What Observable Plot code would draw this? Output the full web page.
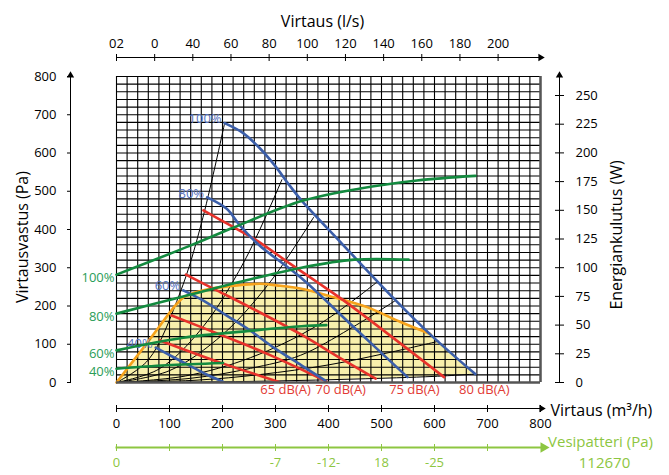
<!DOCTYPE html>
<html><head><meta charset="utf-8">
<script src="https://cdn.jsdelivr.net/npm/d3@7"></script>
<script src="https://cdn.jsdelivr.net/npm/@observablehq/plot@0.6"></script>
<style>
body{margin:0;background:#fff}
#chart{position:relative;width:669px;height:475px;font-family:"Open Sans",sans-serif}
#chart svg{position:absolute;left:0;top:0}
</style></head><body><div id="chart"></div>
<script>
// ---------- axis ticks ----------
const flowTicks = [0,100,200,300,400,500,600,700,800];
const pressureTicks = [0,100,200,300,400,500,600,700,800];
const powerTicks = [0,25,50,75,100,125,150,175,200,225,250];
const lsTicks = [0,20,40,60,80,100,120,140,160,180,200];
const lsTickLabels = ["02","0","40","60","80","100","120","140","160","180","200"];
const coilTicks = [0,100,200,300,400,500,600,700];
const coilTickLabels = ["0","","","-7","-12-","18","-25",""];
const gridValues = d3.range(0, 801, 20);

// ---------- fan curves (m3/h, Pa) ----------
const fan100Q = [204,239,270,300,325,349,426,523,598,677];
const fan100P = [678,652,613,565,518,476,362,220,118,22];
const fan80Q = [171,208,233,270,347,449,549];
const fan80P = [484,454,410,358,275,143,14];
const fan60Q = [126,164,208,252,296,349,394];
const fan60P = [241,214,175,136,92,45,5];
const fan40Q = [74,105,138,170,201];
const fan40P = [91,68,44,21,2];
const fanLabels = ["100%","80%","60%","40%"];

// ---------- sound level lines (m3/h, Pa) ----------
const db80Q = [164,221,265,328,379,429,618];
const db80P = [450,406,371,310,262,214,14];
const db75Q = [131,189,253,349,423,489];
const db75P = [282,241,196,125,63,10];
const db70Q = [104,196,291,396];
const db70P = [175,125,71,3];
const db65Q = [82,196,308];
const db65P = [110,52,1];
const dbLabels = ["65 dB(A)","70 dB(A)","75 dB(A)","80 dB(A)"];
const dbLabelQ = [319,423,562,694];

// ---------- power curves (m3/h, W) ----------
const pow100Q = [0,138,221,349,460,567,677];
const pow100W = [94,119,135,158,169,176,180];
const pow80Q = [0,126,236,349,448,551];
const pow80W = [60,75,88,100,107,107];
const pow60Q = [0,126,252,349,396];
const pow60W = [28,39,45,49,50];
const pow40Q = [0,94,201];
const pow40W = [12,15,17];
const powLabels = ["100%","80%","60%","40%"];

// ---------- system curves (m3/h, Pa) ----------
const sys1Q = [0,60,120,160,204];      const sys1P = [0,59,235,415,678];
const sys2Q = [0,80,160,240,312];      const sys2P = [0,35,140,314,530];
const sys3Q = [0,100,200,290,372];     const sys3P = [0,31,125,263,432];
const sys4Q = [0,130,253,380,491];     const sys4P = [0,17,65,150,262];
const sys5Q = [0,140,253,347,440,526]; const sys5P = [0,11,37,71,140,214];
const sys6Q = [0,150,272,400,520,608]; const sys6P = [0,6,21,46,80,108];
const baseQ = [0,150,300,450,600,677]; const baseP = [0,1,4,9,16,22];

// ---------- operating range upper limit (m3/h, Pa) ----------
const limitQ = [0,57,114,127,150,177,228,272,302,349,410,473,536,592];
const limitP = [0,102,206,223,236,245,254,258,254,245,223,197,158,127];

// ---------- helpers ----------
const pts = (q, v) => q.map((d, i) => ({q: d, v: v[i]}));
const BLUE = "#3b5ea9", BLUE_T = "#5673bf", RED = "#e8322b", RED_T = "#e23a34";
const GREEN = "#138a3f", GREEN_T = "#2a9d58", ORANGE = "#f6a21b", YELLOW = "#f8f0ac";
const LGREEN = "#8dc641";
const FONT = '"Open Sans", sans-serif';
const X = {domain: [0, 800], range: [116, 540], axis: null};
const overlay = (extra) => Object.assign({background: "transparent", overflow: "visible", fontFamily: FONT, fontSize: "13px"}, extra || {});

const fans = [pts(fan100Q, fan100P), pts(fan80Q, fan80P), pts(fan60Q, fan60P), pts(fan40Q, fan40P)];
const dbs = [pts(db80Q, db80P), pts(db75Q, db75P), pts(db70Q, db70P), pts(db65Q, db65P)];
const syss = [pts(sys1Q, sys1P), pts(sys2Q, sys2P), pts(sys3Q, sys3P), pts(sys4Q, sys4P), pts(sys5Q, sys5P), pts(sys6Q, sys6P)];
const base = pts(baseQ, baseP);
const limit = pts(limitQ, limitP);
const envelope = limit.concat(pts(fan100Q, fan100P).filter(d => d.q > limitQ[limitQ.length - 1]));
const pows = [pts(pow100Q, pow100W), pts(pow80Q, pow80W), pts(pow60Q, pow60W), pts(pow40Q, pow40W)];

const CURVE = "catmull-rom";
const chart = document.getElementById("chart");

// ---------- main plot: flow vs pressure ----------
const main = Plot.plot({
  width: 669, height: 475,
  marginLeft: 70, marginTop: 75, marginBottom: 93, marginRight: 129,
  style: overlay({background: "white"}),
  x: X,
  y: {domain: [0, 800], range: [382, 76], axis: null},
  marks: [
    Plot.areaY(envelope, {x: "q", y: "v", fill: YELLOW, curve: CURVE}),
    Plot.areaY(base, {x: "q", y: "v", fill: "white", curve: CURVE}),
    Plot.ruleX(gridValues, {y1: 0, y2: 800, stroke: "#000", strokeWidth: 1.1}),
    Plot.ruleY(gridValues, {x1: 0, x2: 800, stroke: "#000", strokeWidth: 1.1}),
    ...syss.map(s => Plot.line(s, {x: "q", y: "v", stroke: "#000", strokeWidth: 1, curve: CURVE})),
    Plot.line(base, {x: "q", y: "v", stroke: "#000", strokeWidth: 1, curve: CURVE}),
    Plot.line(limit, {x: "q", y: "v", stroke: ORANGE, strokeWidth: 2.6, curve: CURVE}),
    ...dbs.map(s => Plot.line(s, {x: "q", y: "v", stroke: RED, strokeWidth: 2.6, curve: CURVE})),
    ...fans.map(s => Plot.line(s, {x: "q", y: "v", stroke: BLUE, strokeWidth: 2.6, curve: CURVE})),
    Plot.ruleX([800], {y1: 0, y2: 800, stroke: "#555", strokeWidth: 2.5}),
    Plot.ruleY([0], {x1: 0, x2: 800, stroke: "#555", strokeWidth: 2.5}),
    Plot.text(fans.map((s, i) => ({q: s[0].q, v: s[0].v, t: fanLabels[i]})),
      {x: "q", y: "v", text: "t", textAnchor: "end", dx: -3, dy: -4, fill: BLUE_T, fontSize: 13}),
    Plot.text(dbLabels, {x: (d, i) => dbLabelQ[i], text: d => d, frameAnchor: "bottom", textAnchor: "middle", dy: 11, fill: RED_T, fontSize: 13}),
    Plot.axisY(pressureTicks, {anchor: "left", tickSize: 3, tickPadding: 11, label: null, fontSize: 13}),
    Plot.frame({anchor: "left"}),
    Plot.dot([0], {frameAnchor: "top-left", symbol: "triangle2", r: 3.5, fill: "#000"}),
    Plot.text(["Virtausvastus (Pa)"], {frameAnchor: "left", textAnchor: "middle", rotate: -90, dx: -48, dy: 8, fontSize: 16})
  ]
});
chart.appendChild(main);

// ---------- power overlay (right axis, W) ----------
const power = Plot.plot({
  width: 669, height: 475,
  marginLeft: 559, marginRight: 110, marginTop: 75, marginBottom: 93,
  style: overlay(),
  x: X,
  y: {domain: [0, 250], range: [382, 95], axis: null},
  marks: [
    ...pows.map(s => Plot.line(s, {x: "q", y: "v", stroke: GREEN, strokeWidth: 2.6, curve: CURVE})),
    Plot.text(pows.map((s, i) => ({q: s[0].q, v: s[0].v, t: powLabels[i]})),
      {x: "q", y: "v", text: "t", textAnchor: "end", dx: -2, dy: 3, fill: GREEN_T, fontSize: 13}),
    Plot.axisY(powerTicks, {anchor: "right", tickSize: 4, tickPadding: 12, label: null, fontSize: 13}),
    Plot.axisY(powerTicks, {anchor: "left", tickSize: 4, tickFormat: () => "", label: null}),
    Plot.frame({anchor: "left"}),
    Plot.dot([0], {frameAnchor: "top-left", symbol: "triangle2", r: 3.5, fill: "#000"}),
    Plot.text(["Energiankulutus (W)"], {frameAnchor: "left", textAnchor: "middle", rotate: -90, dx: 57, dy: 6, fontSize: 16})
  ]
});
chart.appendChild(power);

// ---------- top axis (l/s) ----------
const lsLabel = new Map(lsTicks.map((d, i) => [d, lsTickLabels[i]]));
const topAxis = Plot.plot({
  width: 669, height: 475,
  marginLeft: 116, marginRight: 129, marginTop: 57, marginBottom: 418,
  style: overlay(),
  x: {domain: [0, 200], range: [116, 116 + 200 * 3.6 * 424 / 800], axis: null},
  marks: [
    Plot.axisX(lsTicks, {anchor: "top", tickSize: 4, tickPadding: 6, tickFormat: d => lsLabel.get(d), label: null, fontSize: 13}),
    Plot.axisX(lsTicks, {anchor: "bottom", tickSize: 4, tickFormat: () => "", label: null}),
    Plot.frame({anchor: "top"}),
    Plot.dot([0], {frameAnchor: "top-right", symbol: "triangle2", rotate: 90, r: 3.5, fill: "#000"}),
    Plot.text(["Virtaus (l/s)"], {frameAnchor: "top", textAnchor: "middle", dx: -6, dy: -42, fontSize: 16})
  ]
});
chart.appendChild(topAxis);

// ---------- bottom axis (m3/h) ----------
const bottomAxis = Plot.plot({
  width: 669, height: 475,
  marginLeft: 116, marginRight: 128, marginTop: 408, marginBottom: 67,
  style: overlay(),
  x: X,
  marks: [
    Plot.axisX(flowTicks, {anchor: "bottom", tickSize: 4, tickPadding: 6, label: null, fontSize: 13}),
    Plot.axisX(flowTicks, {anchor: "top", tickSize: 4, tickFormat: () => "", label: null}),
    Plot.frame({anchor: "bottom"}),
    Plot.dot([0], {frameAnchor: "right", symbol: "triangle2", rotate: 90, r: 3.5, fill: "#000"}),
    Plot.text(["Virtaus (m³/h)"], {frameAnchor: "right", textAnchor: "start", dx: 9, dy: 2, fontSize: 16})
  ]
});
chart.appendChild(bottomAxis);

// ---------- water coil axis ----------
const coilLabel = new Map(coilTicks.map((d, i) => [d, coilTickLabels[i]]));
const coilAxis = Plot.plot({
  width: 669, height: 475,
  marginLeft: 116, marginRight: 126, marginTop: 447, marginBottom: 28,
  style: overlay({color: LGREEN}),
  x: X,
  marks: [
    Plot.axisX(coilTicks, {anchor: "bottom", tickSize: 4, tickPadding: 6, tickFormat: d => coilLabel.get(d), label: null, fontSize: 13, stroke: LGREEN, fill: LGREEN}),
    Plot.axisX(coilTicks, {anchor: "top", tickSize: 4, tickFormat: () => "", label: null, stroke: LGREEN}),
    Plot.frame({anchor: "bottom", stroke: LGREEN, strokeWidth: 2}),
    Plot.dot([0], {frameAnchor: "right", symbol: "triangle2", rotate: 90, r: 5, fill: LGREEN}),
    Plot.text(["Vesipatteri (Pa)"], {frameAnchor: "right", textAnchor: "middle", dx: 57, dy: -5, fontSize: 15, fill: LGREEN}),
    Plot.text(["112670"], {frameAnchor: "right", textAnchor: "middle", dx: 61, dy: 16, fontSize: 15, fill: LGREEN})
  ]
});
chart.appendChild(coilAxis);
</script></body></html>
